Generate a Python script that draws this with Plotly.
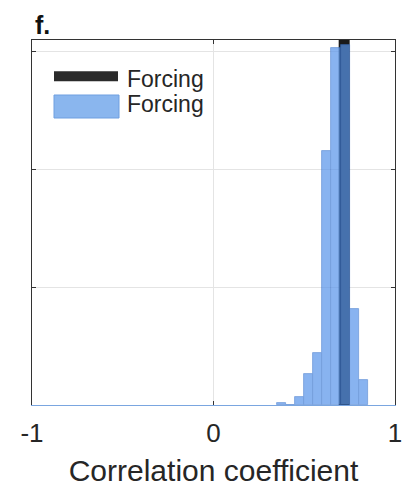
import plotly.graph_objects as go

# ---- data ----
bin_left = [0.35, 0.40, 0.45, 0.50, 0.55, 0.60, 0.65, 0.70, 0.75, 0.80]
density = [0.04, 0.0, 0.14, 0.53, 0.88, 4.32, 6.06, 6.12, 1.63, 0.42]
bin_width = 0.05
forcing_r = 0.72
x_ticks = [-1, 0, 1]
x_ticklabels = ["-1", "0", "1"]
y_grid = [0, 2, 4, 6]
legend_labels = ["Forcing", "Forcing"]

W, H = 403, 487
L, R, T, B = 32, 8, 40, 82
PW, PH = W - L - R, H - T - B


def px(xp):
    return (xp - L) / PW


def py(yp):
    return (H - B - yp) / PH


FONT = "Liberation Sans, Arial, Helvetica, sans-serif"
TXT = "#262626"
FRAME = "#333333"
LIGHT = "#8ab6ee"

fig = go.Figure()

# forcing correlation (thick black line) beneath the histogram
fig.add_trace(go.Scatter(
    x=[forcing_r, forcing_r], y=[0, 10], mode="lines",
    line=dict(color="#1a1a1a", width=11), xaxis="x", yaxis="y",
    showlegend=False, hoverinfo="skip"))

# histogram of correlation coefficients (pdf)
centers = [b + bin_width / 2 for b in bin_left]
fig.add_trace(go.Bar(
    x=centers, y=density, width=[bin_width] * len(centers),
    marker=dict(color="#5995ea", line=dict(color="#3a73cc", width=0.8)),
    opacity=0.71, xaxis="x2", yaxis="y", showlegend=False))

axis_common = dict(range=[-1, 1], tickvals=x_ticks, ticktext=x_ticklabels,
                   ticks="inside", ticklen=4, tickcolor=FRAME, zeroline=False)

fig.update_layout(
    width=W, height=H,
    margin=dict(l=L, r=R, t=T, b=B),
    paper_bgcolor="white", plot_bgcolor="white",
    font=dict(family=FONT, color=TXT),
    bargap=0,
    showlegend=False,
    xaxis=dict(
        **axis_common,
        showline=True, linecolor="#7aa6e0", linewidth=1.2,
        showgrid=True, gridcolor="#e4e4e4", gridwidth=1,
        tickfont=dict(size=26, family=FONT, color=TXT),
        ticklabeloverflow="allow", automargin=False,
        ticklabelstandoff=5,
        title=dict(text="Correlation coefficient",
                   font=dict(size=30, family=FONT, color=TXT), standoff=14),
    ),
    xaxis2=dict(
        **axis_common, overlaying="x", matches="x", side="top",
        showline=True, linecolor=FRAME, linewidth=1,
        showgrid=False, showticklabels=False,
    ),
    yaxis=dict(
        range=[0, 6.2], tickvals=y_grid, showticklabels=False,
        ticks="inside", ticklen=4, tickcolor=FRAME,
        showline=True, linecolor=FRAME, linewidth=1, mirror="ticks",
        showgrid=True, gridcolor="#e4e4e4", gridwidth=1, zeroline=False,
    ),
)

# legend (drawn manually to match the large swatches)
fig.add_shape(type="line", xref="paper", yref="paper",
              x0=px(54), x1=px(118), y0=py(76.3), y1=py(76.3),
              line=dict(color="#2b2b2b", width=10))
fig.add_shape(type="rect", xref="paper", yref="paper",
              x0=px(54), x1=px(119), y0=py(118), y1=py(95),
              fillcolor=LIGHT, line=dict(color="#6f9fe0", width=1))
for label, yc in zip(legend_labels, [79, 104]):
    fig.add_annotation(text=label, xref="paper", yref="paper",
                       x=px(125), y=py(yc), xanchor="left", yanchor="middle",
                       showarrow=False,
                       font=dict(size=23, family=FONT, color=TXT))

# panel label
fig.add_annotation(text="<b>f.</b>", xref="paper", yref="paper",
                   x=px(33), y=py(25), xanchor="left", yanchor="middle",
                   showarrow=False, font=dict(size=25, family=FONT, color="#111111"))

fig.write_html("out.html")
